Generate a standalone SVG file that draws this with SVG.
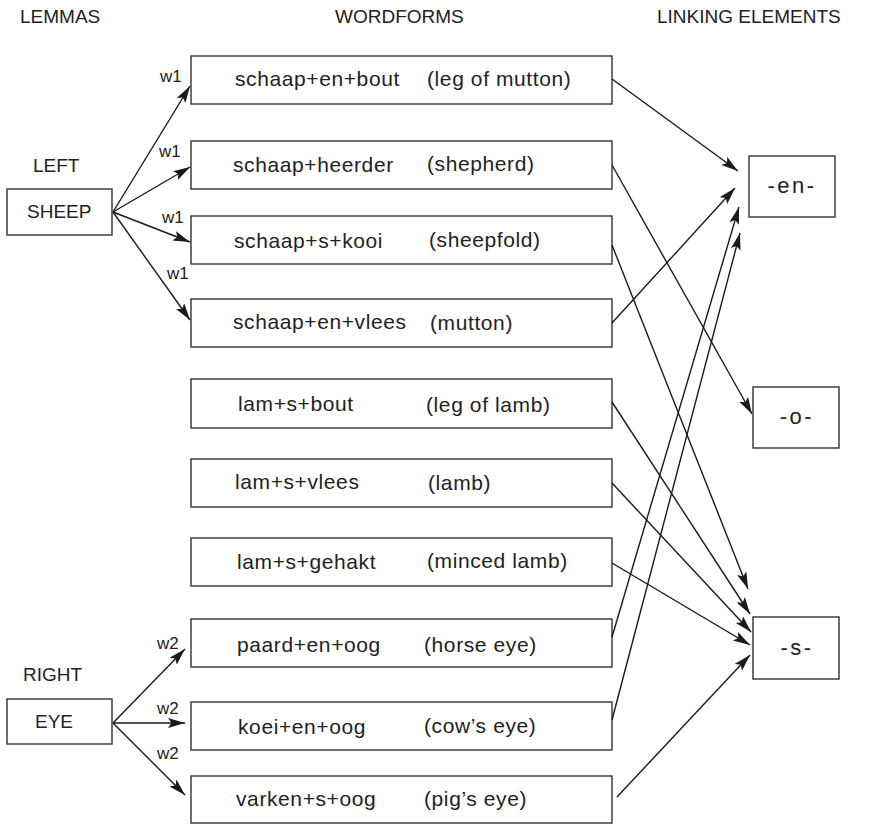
<svg xmlns="http://www.w3.org/2000/svg" width="878" height="824" viewBox="0 0 878 824">
<defs>
<marker id="ah" markerUnits="userSpaceOnUse" markerWidth="19" markerHeight="12" refX="17" refY="5" orient="auto">
<path d="M0,0 L17,5 L0,10 L3.5,5 z" fill="#1a1a1a"/>
</marker>
</defs>
<style>
text{font-family:"Liberation Sans",Arial,sans-serif;fill:#222}
.h{font-size:19px}
.w{font-size:21px;letter-spacing:0.6px}
.l{font-size:19px}
.s{font-size:17px}
rect{fill:#fff;stroke:#333;stroke-width:1.4}
#connectors line{stroke:#1a1a1a;stroke-width:1.4;marker-end:url(#ah)}
</style>
<rect x="0" y="0" width="878" height="824" style="stroke:none"/>
<text class="h" x="20" y="23">LEMMAS</text>
<text class="h" x="335" y="23">WORDFORMS</text>
<text class="h" x="657" y="23">LINKING ELEMENTS</text>

<g id="left">
<text class="l" x="33" y="172">LEFT</text>
<rect x="7" y="189" width="105" height="46"/>
<text class="l" x="27" y="218">SHEEP</text>
</g>
<g id="right">
<text class="l" x="23" y="681">RIGHT</text>
<rect x="7" y="699" width="105" height="45"/>
<text class="l" x="35" y="728">EYE</text>
</g>

<g id="wf1"><rect x="191" y="56" width="421" height="48"/><text class="w" x="235" y="86">schaap+en+bout</text><text class="w" x="427" y="86">(leg of mutton)</text></g>
<g id="wf2"><rect x="191" y="141" width="421" height="48"/><text class="w" x="233" y="172">schaap+heerder</text><text class="w" x="427" y="171">(shepherd)</text></g>
<g id="wf3"><rect x="191" y="216" width="421" height="48"/><text class="w" x="234" y="248">schaap+s+kooi</text><text class="w" x="429" y="247">(sheepfold)</text></g>
<g id="wf4"><rect x="191" y="299" width="421" height="48"/><text class="w" x="233" y="329">schaap+en+vlees</text><text class="w" x="430" y="330">(mutton)</text></g>
<g id="wf5"><rect x="191" y="379" width="421" height="49"/><text class="w" x="238" y="411">lam+s+bout</text><text class="w" x="426" y="412">(leg of lamb)</text></g>
<g id="wf6"><rect x="191" y="459" width="421" height="48"/><text class="w" x="235" y="489">lam+s+vlees</text><text class="w" x="428" y="490">(lamb)</text></g>
<g id="wf7"><rect x="191" y="538" width="421" height="48"/><text class="w" x="237" y="569">lam+s+gehakt</text><text class="w" x="427" y="568">(minced lamb)</text></g>
<g id="wf8"><rect x="191" y="619" width="421" height="48"/><text class="w" x="237" y="652">paard+en+oog</text><text class="w" x="424" y="652">(horse eye)</text></g>
<g id="wf9"><rect x="191" y="702" width="421" height="48"/><text class="w" x="238" y="734">koei+en+oog</text><text class="w" x="424" y="733">(cow’s eye)</text></g>
<g id="wf10"><rect x="191" y="776" width="421" height="47"/><text class="w" x="236" y="806">varken+s+oog</text><text class="w" x="424" y="806">(pig’s eye)</text></g>

<g id="le-en"><rect x="749" y="156" width="86" height="61"/><text class="w" x="792" y="193" text-anchor="middle" style="letter-spacing:2.5px;font-size:22px">-en-</text></g>
<g id="le-o"><rect x="753" y="387" width="86" height="61"/><text class="w" x="797" y="424" text-anchor="middle" style="letter-spacing:2.5px;font-size:22px">-o-</text></g>
<g id="le-s"><rect x="753" y="617" width="86" height="62"/><text class="w" x="797" y="655" text-anchor="middle" style="letter-spacing:2.5px;font-size:22px">-s-</text></g>

<g id="labels">
<text class="s" x="160" y="82">w1</text>
<text class="s" x="159" y="157">w1</text>
<text class="s" x="162" y="223">w1</text>
<text class="s" x="167" y="279">w1</text>
<text class="s" x="157" y="649">w2</text>
<text class="s" x="157" y="714">w2</text>
<text class="s" x="157" y="759">w2</text>
</g>

<g id="connectors">
<line x1="113" y1="212" x2="190" y2="86"/>
<line x1="113" y1="212" x2="190" y2="167"/>
<line x1="113" y1="212" x2="190" y2="242"/>
<line x1="113" y1="212" x2="190" y2="320"/>
<line x1="113" y1="723" x2="185" y2="649"/>
<line x1="113" y1="723" x2="185" y2="723"/>
<line x1="113" y1="723" x2="185" y2="795"/>
<line x1="612" y1="79" x2="738" y2="171"/>
<line x1="612" y1="165" x2="752" y2="414"/>
<line x1="612" y1="245" x2="748" y2="589"/>
<line x1="612" y1="323" x2="735" y2="188"/>
<line x1="612" y1="402" x2="750" y2="614"/>
<line x1="612" y1="483" x2="751" y2="632"/>
<line x1="612" y1="563" x2="750" y2="645"/>
<line x1="612" y1="637" x2="739" y2="207"/>
<line x1="612" y1="720" x2="740" y2="233"/>
<line x1="617" y1="797" x2="750" y2="655"/>
</g>
</svg>
